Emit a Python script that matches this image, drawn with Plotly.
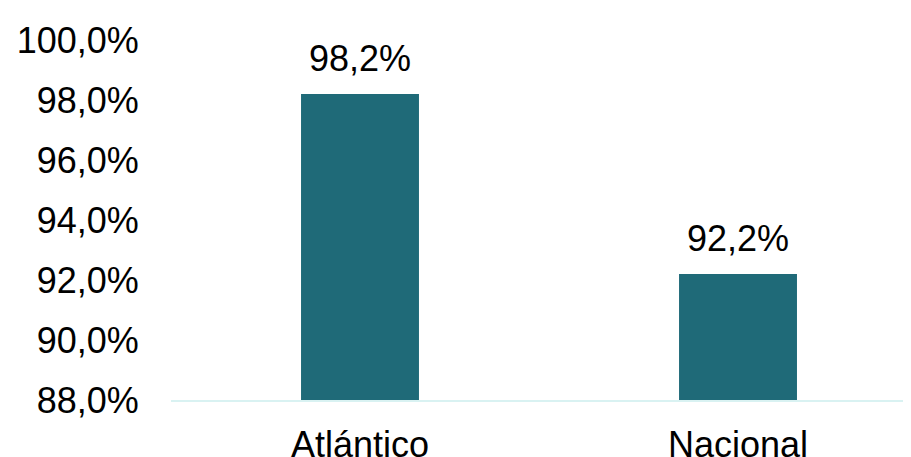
import plotly.graph_objects as go

categories = ["Atlántico", "Nacional"]
values = [98.2, 92.2]
value_labels = ["98,2%", "92,2%"]
tick_vals = [88, 90, 92, 94, 96, 98, 100]
tick_text = ["88,0%", "90,0%", "92,0%", "94,0%", "96,0%", "98,0%", "100,0%"]

FONT = "Liberation Sans, Arial, sans-serif"
BAR = "#1F6A78"

fig = go.Figure()
fig.add_trace(go.Bar(
    x=[0, 1], y=values, width=0.312, marker=dict(color=BAR, line=dict(width=0)),
))
for i, (v, t) in enumerate(zip(values, value_labels)):
    fig.add_annotation(x=i, y=v, text=t, showarrow=False, yanchor="bottom",
                       yshift=13, font=dict(family=FONT, size=36, color="#000000"))

fig.update_layout(
    width=911, height=457,
    margin=dict(l=163, r=0, t=32, b=65, autoexpand=False),
    paper_bgcolor="white", plot_bgcolor="white",
    showlegend=False,
    font=dict(family=FONT, size=36, color="#000000"),
    xaxis=dict(range=[-0.5, 1.4788], tickvals=[0, 1], ticktext=categories,
               automargin=False,
               showgrid=False, zeroline=False, showline=True, linecolor="#D9F2F2",
               linewidth=2, ticks="outside", ticklen=12, tickcolor="rgba(0,0,0,0)",
               tickfont=dict(family=FONT, size=36, color="#000000")),
    yaxis=dict(range=[88, 100], tickvals=tick_vals, ticktext=tick_text,
               automargin=False,
               showgrid=False, zeroline=False, showline=False,
               ticks="outside", ticklen=24, tickcolor="rgba(0,0,0,0)",
               tickfont=dict(family=FONT, size=36, color="#000000")),
)
fig.write_html("out.html")
